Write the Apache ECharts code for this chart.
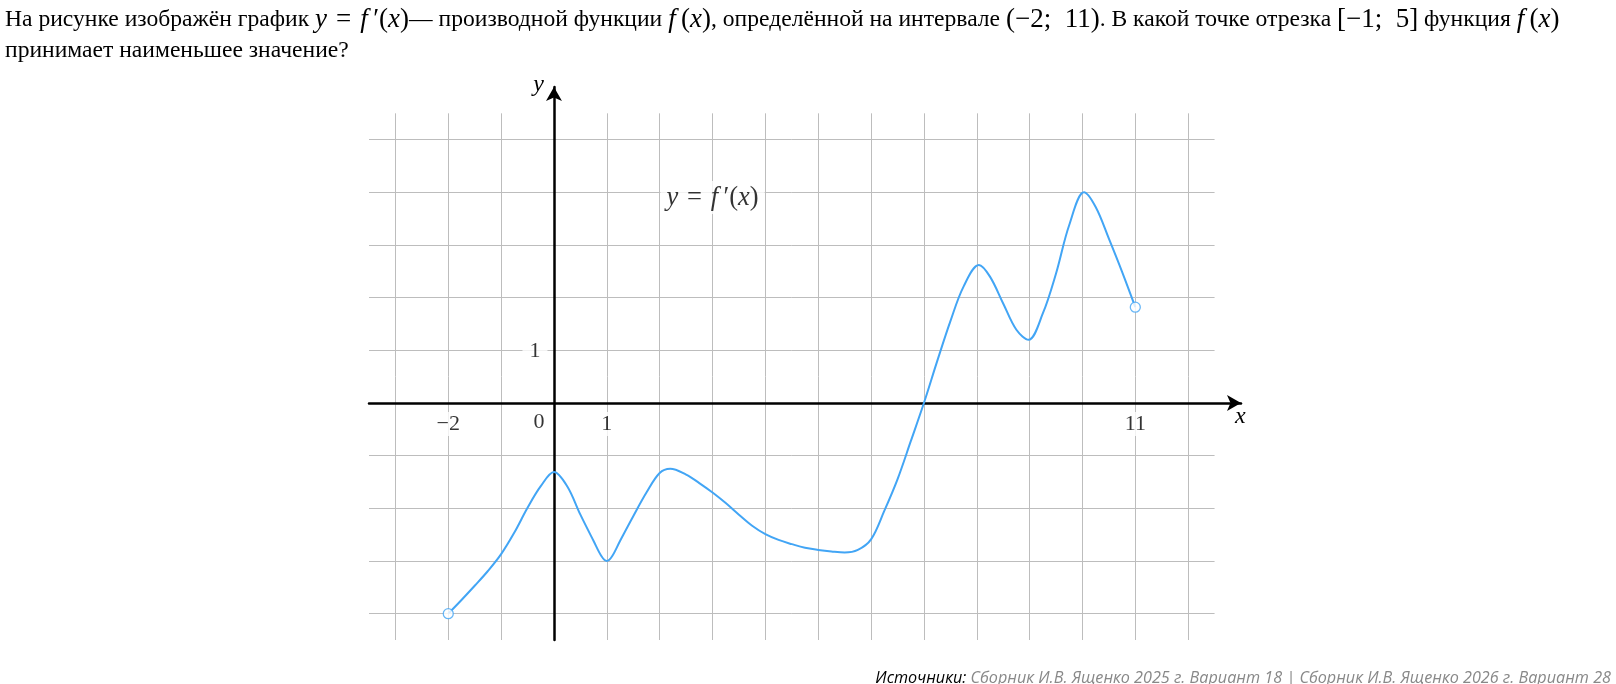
<!DOCTYPE html>
<html>
<head>
<meta charset="utf-8">
<script src="https://cdn.jsdelivr.net/npm/echarts@6/dist/echarts.min.js"></script>
<style>
  html, body { margin: 0; padding: 0; background: #fff; }
  #chart { width: 1616px; height: 684px; }
</style>
</head>
<body>
<div id="chart"></div>
<script>
// f'(x)
const xs = [-2, -1.75, -1.5, -1.25, -1, -0.75, -0.5, -0.25, 0, 0.25, 0.5, 0.75, 0.9, 1, 1.1, 1.25, 1.5, 1.75, 2, 2.2, 2.5, 2.75,
  3, 3.25, 3.5, 3.75, 4, 4.25, 4.5, 4.75, 5, 5.25, 5.5, 5.75, 6, 6.25, 6.5, 6.75, 7, 7.25, 7.5, 7.75,
  8.04, 8.25, 8.5, 8.75, 8.98, 9.25, 9.5, 9.75, 10.03, 10.25, 10.5, 10.75, 11];
const ys = [-4, -3.74, -3.47, -3.19, -2.87, -2.46, -1.99, -1.58, -1.31, -1.58, -2.12, -2.62, -2.91, -3.0, -2.91, -2.62, -2.15, -1.70, -1.33, -1.25, -1.36, -1.52,
  -1.70, -1.90, -2.12, -2.33, -2.49, -2.60, -2.68, -2.75, -2.79, -2.82, -2.84, -2.79, -2.59, -2.05, -1.45, -0.73, 0, 0.79, 1.55, 2.21,
  2.62, 2.4, 1.89, 1.39, 1.2, 1.7, 2.46, 3.38, 4.0, 3.72, 3.12, 2.49, 1.82];

const gridXs = [-3, -2, -1, 0, 1, 2, 3, 4, 5, 6, 7, 8, 9, 10, 11, 12];
const gridYs = [-4, -3, -2, -1, 0, 1, 2, 3, 4, 5];
const xTickLabels = [-2, 1, 11];
const yTickLabels = [1];

const blue = '#42a5f5';
const serif = 'Liberation Serif';

const curve = xs.map((x, i) => [x, ys[i]]);
const ends = [curve[0], curve[curve.length - 1]];

const gridLines = [];
gridXs.forEach(x => gridLines.push([{ coord: [x, -4.5] }, { coord: [x, 5.5] }]));
gridYs.forEach(y => gridLines.push([{ coord: [-3.5, y] }, { coord: [12.5, y] }]));

const fmt = v => (v < 0 ? '\u2212' + Math.abs(v) : String(v));

const txt = { fontFamily: serif, fontSize: 23.6, fontWeight: 'normal', color: '#000', lineHeight: 31 };
const mathUp = { fontFamily: serif, fontSize: 27, fontWeight: 'normal', color: '#000', lineHeight: 31 };
const mathIt = Object.assign({}, mathUp, { fontStyle: 'italic' });

const chart = echarts.init(document.getElementById('chart'));
chart.setOption({
  animation: false,
  title: [
    {
      left: 0,
      top: -1,
      text: '{t|На рисунке изображён график }{i|y}{m|\u2004=\u2004}{i|f\u2009}{m|\u2032(}{i|x}{m|)}{t|— производной функции }{i|f\u2009}{m|(}{i|x}{m|)}{t|, определённой на интервале }{m|(\u22122;\u200211)}{t|. В какой точке отрезка }{m|[\u22121;\u20025]}{t| функция }{i|f\u2009}{m|(}{i|x}{m|)}\n{t|принимает наименьшее значение?}',
      textStyle: { fontWeight: 'normal', rich: { t: txt, i: mathIt, m: mathUp } }
    },
    {
      right: 0,
      top: 665,
      text: '{b|Источники: }{g|Сборник И.В. Ященко 2025 г. Вариант 18 | Сборник И.В. Ященко 2026 г. Вариант 28}',
      textStyle: {
        fontWeight: 'normal',
        rich: {
          b: { fontFamily: 'Open Sans', fontStyle: 'italic', fontWeight: 'normal', fontSize: 16.2, color: '#000' },
          g: { fontFamily: 'Open Sans', fontStyle: 'italic', fontWeight: 'normal', fontSize: 16.2, color: '#888' }
        }
      }
    }
  ],
  grid: { left: 369, top: 87, width: 872, height: 553 },
  xAxis: {
    type: 'value',
    min: -3.5,
    max: 13,
    name: 'x',
    nameLocation: 'end',
    nameGap: -6,
    nameTextStyle: { fontFamily: serif, fontStyle: 'italic', fontSize: 24, color: '#000', verticalAlign: 'top', padding: [2, 0, 0, 0] },
    axisLine: { onZero: true, symbol: ['none', 'arrow'], symbolSize: [12, 14], lineStyle: { color: '#000', width: 2.5 } },
    axisTick: { show: false },
    splitLine: { show: false },
    axisLabel: { show: false }
  },
  yAxis: {
    type: 'value',
    min: -4.5,
    max: 6,
    name: 'y',
    nameLocation: 'end',
    nameGap: 2,
    nameTextStyle: { fontFamily: serif, fontStyle: 'italic', fontSize: 24, color: '#000', align: 'right', verticalAlign: 'middle', padding: [0, 10, 0, 0] },
    axisLine: { onZero: true, symbol: ['none', 'arrow'], symbolSize: [12, 14], lineStyle: { color: '#000', width: 2.5 } },
    axisTick: { show: false },
    splitLine: { show: false },
    axisLabel: { show: false }
  },
  series: [
    {
      type: 'line',
      z: -1,
      data: [],
      markLine: {
        z: -1,
        silent: true,
        symbol: 'none',
        label: { show: false },
        lineStyle: { color: '#bdbdbd', width: 1, type: 'solid' },
        data: gridLines
      }
    },
    {
      type: 'line',
      data: curve,
      smooth: 0.35,
      showSymbol: false,
      lineStyle: { color: blue, width: 2 },
      z: 3
    },
    {
      type: 'scatter',
      data: ends,
      symbol: 'circle',
      symbolSize: 10,
      itemStyle: { color: '#fff', borderColor: blue, borderWidth: 1.3 },
      z: 4
    },
    {
      // x tick labels
      type: 'scatter',
      data: xTickLabels.map(v => [v, 0]),
      symbolSize: 0,
      label: { show: true, position: 'inside', offset: [0, 21], formatter: p => fmt(p.value[0]), fontFamily: serif, fontSize: 22, color: '#000', backgroundColor: '#fff', padding: [1, 4] },
      z: 4
    },
    {
      // y tick labels
      type: 'scatter',
      data: yTickLabels.map(v => [0, v]),
      symbolSize: 0,
      label: { show: true, position: 'inside', offset: [-19, 1], formatter: p => fmt(p.value[1]), fontFamily: serif, fontSize: 22, color: '#000', backgroundColor: '#fff', padding: [2, 7] },
      z: 4
    },
    {
      type: 'scatter',
      data: [[0, 0]],
      symbolSize: 0,
      label: { show: true, position: 'inside', formatter: '0', offset: [-15, 19], fontFamily: serif, fontSize: 22, color: '#000' },
      z: 4
    },
    {
      type: 'scatter',
      data: [[3, 3.9]],
      symbolSize: 0,
      label: {
        show: true,
        position: 'inside',
        formatter: '{i|y}{m|\u2004=\u2004}{i|f\u2009}{m|\u2032(}{i|x}{m|)}',
        backgroundColor: '#fff',
        padding: [3, 6],
        rich: {
          i: { fontFamily: serif, fontStyle: 'italic', fontSize: 26.5, color: '#000' },
          m: { fontFamily: serif, fontSize: 26.5, color: '#000' }
        }
      },
      z: 4
    }
  ]
});
</script>
</body>
</html>
